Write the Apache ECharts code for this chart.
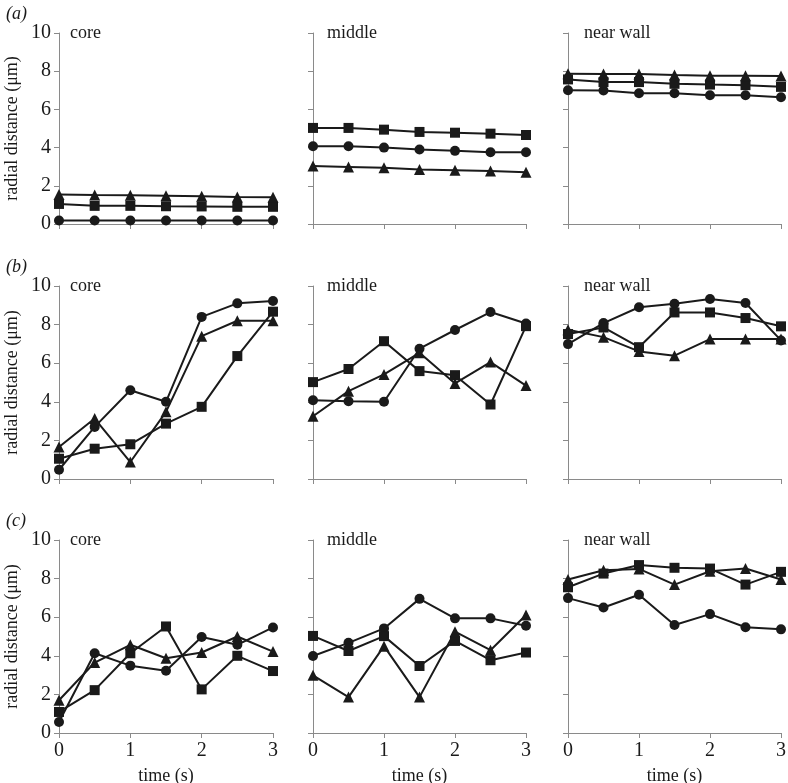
<!DOCTYPE html>
<html>
<head>
<meta charset="utf-8">
<script src="https://cdn.jsdelivr.net/npm/echarts@6/dist/echarts.min.js"></script>
<style>
html,body{margin:0;padding:0;background:#fff;}
#chart{width:788px;height:783px;}
</style>
</head>
<body>
<div id="chart"></div>
<script>
// ---- data ----
const times = [0, 0.5, 1, 1.5, 2, 2.5, 3];
const rowLabels = ['(a)', '(b)', '(c)'];
const panelTitles = ['core', 'middle', 'near wall'];
const yTicks = [0, 2, 4, 6, 8, 10];
const xTicks = [0, 1, 2, 3];

// row a
const aCoreCircle   = [0.18, 0.18, 0.18, 0.18, 0.18, 0.18, 0.18];
const aCoreSquare   = [1.05, 0.95, 0.95, 0.93, 0.92, 0.9, 0.9];
const aCoreTriangle = [1.55, 1.52, 1.5, 1.48, 1.45, 1.42, 1.4];
const aMidCircle    = [4.07, 4.07, 4.0, 3.9, 3.83, 3.76, 3.76];
const aMidSquare    = [5.03, 5.03, 4.94, 4.82, 4.78, 4.73, 4.66];
const aMidTriangle  = [3.04, 2.99, 2.94, 2.85, 2.82, 2.78, 2.71];
const aWallCircle   = [7.0, 6.99, 6.85, 6.85, 6.74, 6.74, 6.64];
const aWallSquare   = [7.57, 7.43, 7.43, 7.34, 7.3, 7.27, 7.18];
const aWallTriangle = [7.86, 7.85, 7.85, 7.8, 7.76, 7.76, 7.75];
// row b
const bCoreCircle   = [0.48, 2.7, 4.6, 4.0, 8.4, 9.1, 9.22];
const bCoreSquare   = [1.05, 1.57, 1.8, 2.87, 3.74, 6.37, 8.67];
const bCoreTriangle = [1.66, 3.13, 0.88, 3.48, 7.4, 8.2, 8.2];
const bMidCircle    = [4.08, 4.03, 4.0, 6.75, 7.72, 8.65, 8.06];
const bMidSquare    = [5.02, 5.7, 7.14, 5.59, 5.38, 3.86, 7.92];
const bMidTriangle  = [3.25, 4.55, 5.42, 6.54, 4.95, 6.06, 4.84];
const bWallCircle   = [6.99, 8.08, 8.9, 9.08, 9.33, 9.12, 7.18];
const bWallSquare   = [7.51, 7.85, 6.83, 8.63, 8.63, 8.34, 7.91];
const bWallTriangle = [7.73, 7.35, 6.61, 6.39, 7.25, 7.25, 7.25];
// row c
const cCoreCircle   = [0.57, 4.13, 3.49, 3.23, 4.97, 4.57, 5.47];
const cCoreSquare   = [1.09, 2.22, 4.13, 5.52, 2.26, 4.0, 3.21];
const cCoreTriangle = [1.7, 3.65, 4.57, 3.87, 4.17, 5.0, 4.22];
const cMidCircle    = [3.99, 4.67, 5.42, 6.95, 5.94, 5.94, 5.56];
const cMidSquare    = [5.03, 4.25, 5.02, 3.47, 4.77, 3.77, 4.17];
const cMidTriangle  = [2.99, 1.86, 4.5, 1.86, 5.25, 4.29, 6.11];
const cWallCircle   = [6.99, 6.5, 7.16, 5.6, 6.16, 5.48, 5.37];
const cWallSquare   = [7.55, 8.26, 8.7, 8.56, 8.52, 7.69, 8.35];
const cWallTriangle = [7.95, 8.43, 8.5, 7.69, 8.38, 8.52, 7.95];

const panels = [
  [[aCoreCircle, aCoreSquare, aCoreTriangle], [aMidCircle, aMidSquare, aMidTriangle], [aWallCircle, aWallSquare, aWallTriangle]],
  [[bCoreCircle, bCoreSquare, bCoreTriangle], [bMidCircle, bMidSquare, bMidTriangle], [bWallCircle, bWallSquare, bWallTriangle]],
  [[cCoreCircle, cCoreSquare, cCoreTriangle], [cMidCircle, cMidSquare, cMidTriangle], [cWallCircle, cWallSquare, cWallTriangle]]
];

// ---- layout ----
const colLeft = [59, 313, 568];
const colWidth = [214, 213, 213];
const rowTop = [33, 286, 540];
const rowHeight = [191, 193, 193];
const symbols = ['circle', 'rect', 'triangle'];
const symbolSizes = [10, 10, 11];
const font = 'Liberation Serif';
const axisColor = '#8a8a8a';
const ink = '#1a1a1a';

const grids = [], xAxes = [], yAxes = [], series = [], titles = [];
let gi = 0;
for (let r = 0; r < 3; r++) {
  titles.push({
    text: rowLabels[r], left: 1, top: rowTop[r] - 33,
    textStyle: {fontFamily: font, fontSize: 18, fontStyle: 'italic', fontWeight: 'normal', color: ink}
  });
  for (let c = 0; c < 3; c++) {
    grids.push({left: colLeft[c], top: rowTop[r], width: colWidth[c], height: rowHeight[r],
                containLabel: false, outerBoundsMode: 'none'});
    titles.push({
      text: panelTitles[c], left: colLeft[c] + 6 + (c === 1 ? 3 : (c === 2 ? 5 : 0)), top: rowTop[r] - 14,
      textStyle: {fontFamily: font, fontSize: 18, fontWeight: 'normal', color: ink}
    });
    const lastRow = r === 2;
    xAxes.push({
      type: 'value', gridIndex: gi, min: xTicks[0], max: xTicks[xTicks.length - 1], interval: 1,
      axisLine: {show: true, onZero: false, lineStyle: {color: axisColor, width: 1}},
      axisTick: {show: true, length: 5, lineStyle: {color: axisColor}},
      axisLabel: {show: lastRow, margin: 8, fontFamily: font, fontSize: 20, color: ink},
      splitLine: {show: false},
      name: lastRow ? 'time (s)' : '', nameLocation: 'middle', nameGap: 34,
      nameTextStyle: {fontFamily: font, fontSize: 18, color: ink}
    });
    yAxes.push({
      type: 'value', gridIndex: gi, min: yTicks[0], max: yTicks[yTicks.length - 1], interval: 2,
      axisLine: {show: true, onZero: false, lineStyle: {color: axisColor, width: 1}},
      axisTick: {show: true, length: 5, lineStyle: {color: axisColor}},
      axisLabel: {show: c === 0, margin: 8, fontFamily: font, fontSize: 20, color: ink},
      splitLine: {show: false},
      name: c === 0 ? 'radial distance (μm)' : '', nameLocation: 'middle', nameGap: 38,
      nameTextStyle: {fontFamily: font, fontSize: 18, color: ink}
    });
    const sets = panels[r][c];
    for (let s = 0; s < 3; s++) {
      series.push({
        type: 'line', xAxisIndex: gi, yAxisIndex: gi,
        data: times.map((t, i) => [t, sets[s][i]]),
        symbol: symbols[s], symbolSize: symbolSizes[s], showAllSymbol: true,
        lineStyle: {color: ink, width: 2},
        itemStyle: {color: ink, borderWidth: 0},
        clip: false, animation: false, silent: true
      });
    }
    gi++;
  }
}

const chart = echarts.init(document.getElementById('chart'), null, {renderer: 'canvas'});
chart.setOption({
  backgroundColor: '#fff',
  animation: false,
  title: titles,
  grid: grids,
  xAxis: xAxes,
  yAxis: yAxes,
  series: series
});
</script>
</body>
</html>
